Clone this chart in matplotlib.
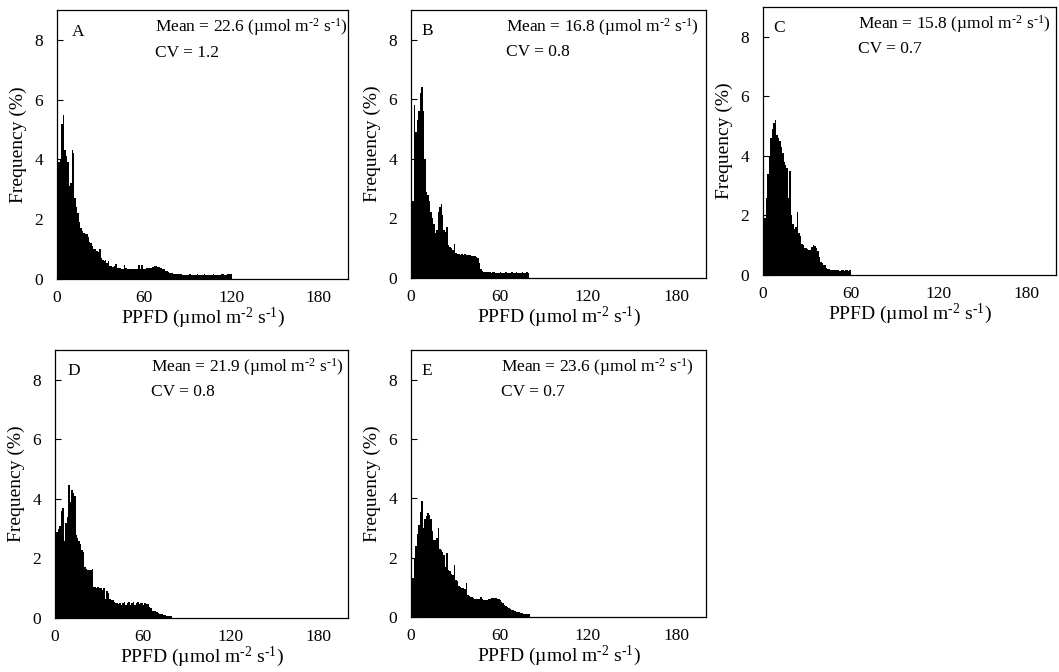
import numpy as np
import matplotlib
matplotlib.use("Agg")
import matplotlib.pyplot as plt

plt.rcParams['font.family'] = ['Liberation Serif', 'DejaVu Serif']
plt.rcParams['mathtext.fontset'] = 'custom'
plt.rcParams['mathtext.rm'] = 'Liberation Serif'
plt.rcParams['mathtext.it'] = 'Liberation Serif:italic'
plt.rcParams['mathtext.default'] = 'rm'

# frequency (%) per 1 umol bin, starting at 0
freq_A = [3.4, 3.9, 4.0, 5.2, 5.5, 4.3, 4.1, 3.9, 3.1, 3.2,
          4.3, 4.2, 2.7, 2.4, 2.2, 1.9, 1.7, 1.6, 1.55, 1.5,
          1.5, 1.4, 1.25, 1.2, 1.1, 1.0, 1.0, 0.95, 0.9, 1.0,
          0.7, 0.65, 0.6, 0.62, 0.55, 0.6, 0.45, 0.42, 0.4, 0.42,
          0.5, 0.38, 0.38, 0.36, 0.35, 0.35, 0.48, 0.36, 0.35, 0.34,
          0.34, 0.33, 0.35, 0.34, 0.33, 0.34, 0.47, 0.32, 0.48, 0.33,
          0.34, 0.36, 0.37, 0.38, 0.38, 0.4, 0.41, 0.42, 0.42, 0.41,
          0.4, 0.38, 0.34, 0.32, 0.28, 0.26, 0.24, 0.21, 0.2, 0.19,
          0.18, 0.17, 0.17, 0.16, 0.16, 0.16, 0.15, 0.15, 0.15, 0.14,
          0.15, 0.16, 0.15, 0.14, 0.15, 0.15, 0.16, 0.15, 0.15, 0.14,
          0.15, 0.16, 0.15, 0.15, 0.14, 0.15, 0.15, 0.16, 0.15, 0.15,
          0.15, 0.14, 0.15, 0.16, 0.17, 0.15, 0.15, 0.16, 0.17, 0.16]
freq_B = [0.9, 2.6, 5.8, 4.9, 5.3, 5.6, 6.2, 6.4, 5.6, 4.0,
          2.9, 2.8, 2.6, 2.2, 2.0, 1.8, 1.5, 1.6, 2.2, 2.4,
          2.5, 2.1, 1.6, 1.55, 1.7, 1.1, 1.05, 1.0, 0.95, 1.15,
          0.85, 0.8, 0.8, 0.78, 0.8, 0.78, 0.8, 0.78, 0.77, 0.76,
          0.77, 0.75, 0.75, 0.74, 0.72, 0.68, 0.5, 0.3, 0.22, 0.2,
          0.21, 0.2, 0.19, 0.2, 0.18, 0.19, 0.2, 0.18, 0.17, 0.18,
          0.19, 0.18, 0.17, 0.18, 0.19, 0.18, 0.17, 0.18, 0.2, 0.18,
          0.17, 0.19, 0.18, 0.17, 0.18, 0.2, 0.18, 0.17, 0.19, 0.18]
freq_C = [1.0, 1.9, 2.6, 3.4, 4.0, 4.6, 4.9, 5.1, 5.2, 4.7,
          4.6, 4.5, 4.3, 4.1, 3.8, 3.7, 3.6, 2.6, 3.5, 2.0,
          1.7, 1.55, 1.6, 2.1, 1.4, 1.3, 1.05, 1.0, 0.9, 0.9,
          0.88, 0.85, 0.85, 0.95, 1.0, 0.98, 0.9, 0.8, 0.6, 0.45,
          0.4, 0.35, 0.32, 0.25, 0.2, 0.19, 0.17, 0.18, 0.16, 0.17,
          0.18, 0.16, 0.15, 0.17, 0.16, 0.15, 0.17, 0.16, 0.15, 0.16]
freq_D = [2.4, 2.9, 3.0, 3.1, 3.6, 3.7, 2.6, 3.2, 3.4, 4.45,
          3.9, 4.3, 4.2, 4.1, 2.8, 2.7, 2.6, 2.5, 2.3, 2.2,
          1.7, 1.65, 1.6, 1.62, 1.6, 1.65, 1.05, 1.05, 1.0, 1.05,
          1.0, 1.0, 0.95, 1.0, 0.65, 0.9, 0.85, 0.65, 0.62, 0.6,
          0.55, 0.5, 0.5, 0.48, 0.5, 0.45, 0.52, 0.55, 0.44, 0.5,
          0.53, 0.45, 0.5, 0.53, 0.44, 0.5, 0.53, 0.46, 0.5, 0.52,
          0.45, 0.5, 0.48, 0.47, 0.38, 0.35, 0.25, 0.23, 0.22, 0.2,
          0.16, 0.15, 0.14, 0.13, 0.1, 0.09, 0.08, 0.08, 0.07, 0.07]
freq_E = [1.1, 1.3, 2.0, 2.4, 2.8, 3.1, 3.55, 3.9, 3.0, 3.3,
          3.4, 3.5, 3.45, 3.3, 2.9, 2.6, 2.6, 2.65, 3.0, 2.3,
          2.25, 2.2, 2.1, 1.7, 2.15, 1.6, 1.55, 1.45, 1.4, 1.75,
          1.25, 1.2, 1.05, 1.0, 0.98, 0.97, 0.95, 1.15, 0.75, 0.7,
          0.68, 0.66, 0.65, 0.6, 0.6, 0.6, 0.62, 0.67, 0.6, 0.58,
          0.58, 0.58, 0.6, 0.62, 0.63, 0.64, 0.65, 0.64, 0.62, 0.6,
          0.57, 0.52, 0.47, 0.42, 0.38, 0.34, 0.3, 0.27, 0.25, 0.23,
          0.2, 0.18, 0.17, 0.16, 0.15, 0.12, 0.11, 0.1, 0.1, 0.1, 0.1]

panel_labels = ['A', 'B', 'C', 'D', 'E']
means = [22.6, 16.8, 15.8, 21.9, 23.6]
cvs = [1.2, 0.8, 0.7, 0.8, 0.7]
all_freq = [freq_A, freq_B, freq_C, freq_D, freq_E]

# axes rectangles in figure pixels: left, top, right, bottom
W, H = 1059, 672
boxes = [(57, 10, 348, 279), (411, 10, 706, 278), (763, 7, 1056, 275),
         (55, 350, 348, 618), (411, 350, 706, 617)]
letter_x = [0.052, 0.037, 0.034, 0.041, 0.034]
text_x = [0.337, 0.322, 0.324, 0.328, 0.305]

fig = plt.figure(figsize=(W / 100, H / 100), dpi=100)

# short hyphen in the exponents, as in the original
unit = '(\u00b5mol m$^{\u20102}$ s$^{\u20101}$)'

for i, freq in enumerate(all_freq):
    l, t, r, b = boxes[i]
    ax = fig.add_axes([l / W, 1 - b / H, (r - l) / W, (b - t) / H])
    x = np.arange(len(freq))
    ax.bar(x, freq, width=1.0, align='edge', color='black', linewidth=0)
    ax.set_xlim(0, 200)
    ax.set_ylim(0, 9)
    ax.set_xticks([0, 60, 120, 180])
    ax.set_yticks([0, 2, 4, 6, 8])
    ax.tick_params(axis='y', direction='in', length=4, width=0.8, labelsize=12.5, pad=10)
    ax.tick_params(axis='x', length=0, labelsize=12.5, pad=8)
    for s in ax.spines.values():
        s.set_linewidth(0.9)
        s.set_color('black')
    ax.set_xlabel('PPFD ' + unit, fontsize=14, labelpad=0)
    ax.set_ylabel('Frequency (%)', fontsize=14, labelpad=5)
    ax.text(letter_x[i], 0.92, panel_labels[i], transform=ax.transAxes,
            fontsize=12.5, va='center', ha='left')
    ax.text(text_x[i], 0.935, f'Mean = {means[i]} ' + unit, transform=ax.transAxes,
            fontsize=12.5, va='center', ha='left')
    ax.text(text_x[i], 0.842, f'CV = {cvs[i]}', transform=ax.transAxes,
            fontsize=12.5, va='center', ha='left')

fig.savefig('out.png', dpi=100)
